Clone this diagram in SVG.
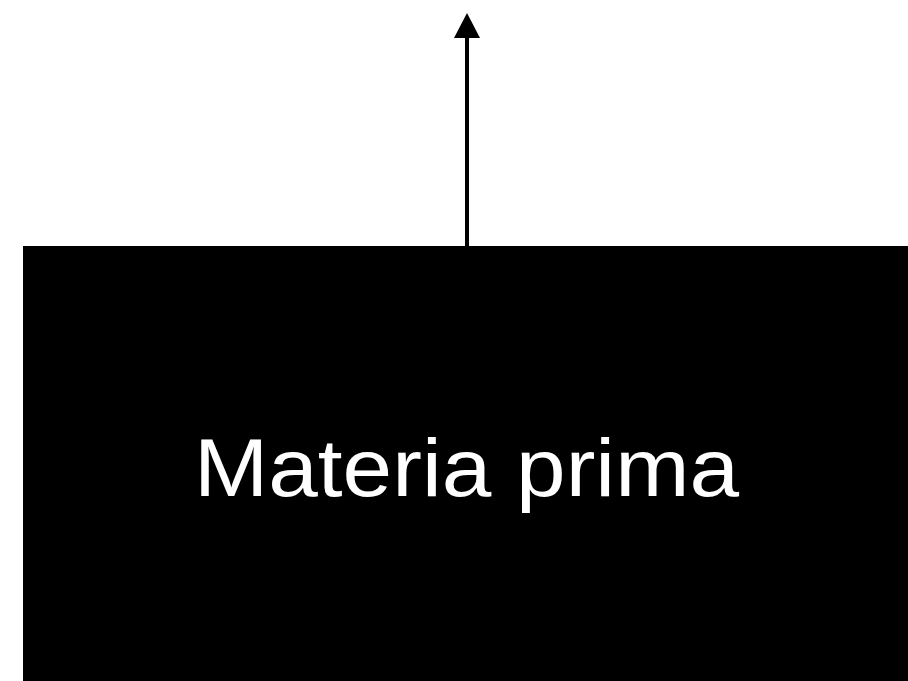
<svg xmlns="http://www.w3.org/2000/svg" width="908" height="681" viewBox="0 0 908 681">
<defs>
<style>
.node{fill:#000}
.label{font-family:"Liberation Sans",Arial,sans-serif;font-size:82px;fill:#fff}
.conn{stroke:#000;stroke-width:4;fill:none}
</style>
<marker id="arrow" markerUnits="userSpaceOnUse" markerWidth="26" markerHeight="26" viewBox="0 0 26 26" refX="13" refY="1" orient="auto-start-reverse">
<path d="M0,26 L13,0 L26,26 Z" fill="#000" transform="rotate(90 13 13)"/>
</marker>
</defs>
<rect width="908" height="681" fill="#fff"/>
<g id="materia-prima">
<rect class="node" x="23" y="246" width="885" height="435"/>
<text class="label" x="194" y="496" textLength="545" lengthAdjust="spacingAndGlyphs">Materia prima</text>
</g>
<g id="connectors">
<line class="conn" x1="467" y1="246" x2="467" y2="36"/>
<path d="M467,13 L480,38 L454,38 Z" fill="#000"/>
</g>
</svg>
